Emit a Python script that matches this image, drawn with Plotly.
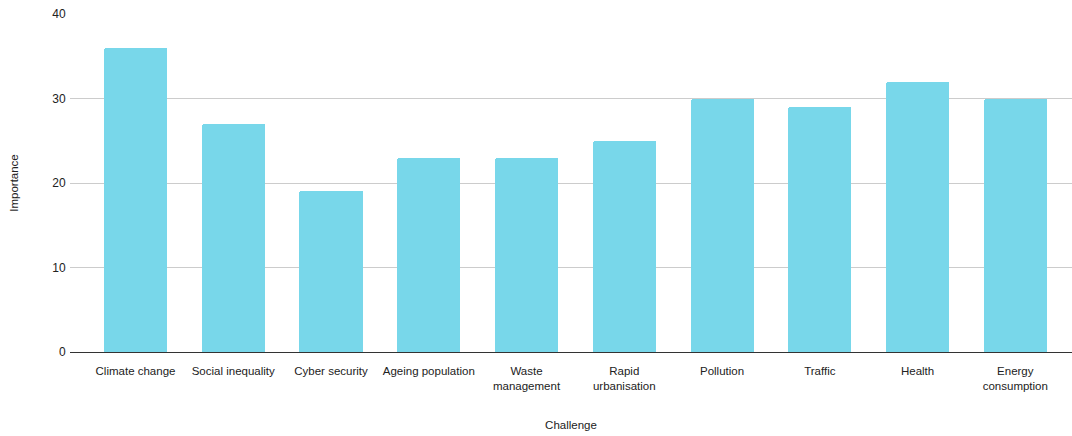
import plotly.graph_objects as go

challenges = ["Climate change", "Social inequality", "Cyber security", "Ageing population",
              "Waste<br>management", "Rapid<br>urbanisation", "Pollution", "Traffic",
              "Health", "Energy<br>consumption"]
importance = [36, 27, 19, 23, 23, 25, 30, 29, 32, 30]
y_ticks = [0, 10, 20, 30, 40]

fig = go.Figure(go.Bar(
    x=list(range(len(challenges))),
    y=importance,
    width=0.645,
    marker=dict(color="#78D7EA", line=dict(width=0), cornerradius=2),
))

fig.update_layout(
    width=1072, height=436,
    margin=dict(l=70, r=0, t=14, b=84),
    plot_bgcolor="white", paper_bgcolor="white",
    font=dict(family="Liberation Sans, Arial, sans-serif", size=11.5, color="#222222"),
    showlegend=False,
    bargap=0,
)

fig.update_xaxes(
    range=[-0.67, 9.58],
    tickmode="array", tickvals=list(range(len(challenges))), ticktext=challenges,
    showgrid=False, showline=True, linecolor="#333333", linewidth=1,
    ticks="outside", ticklen=8, tickcolor="rgba(0,0,0,0)",
    tickfont=dict(size=11.5, color="#222222"),
    title=dict(text="Challenge", font=dict(size=11.5, color="#222222"), standoff=30),
)

fig.update_yaxes(
    range=[0, 40], tickvals=y_ticks,
    showgrid=True, gridcolor="#CCCCCC", gridwidth=1,
    zeroline=False, showline=False,
    ticks="outside", ticklen=1, tickcolor="rgba(0,0,0,0)",
    tickfont=dict(size=12, color="#222222"),
    title=dict(text="Importance", font=dict(size=11.5, color="#222222"), standoff=31),
)

fig.write_html("out.html")
